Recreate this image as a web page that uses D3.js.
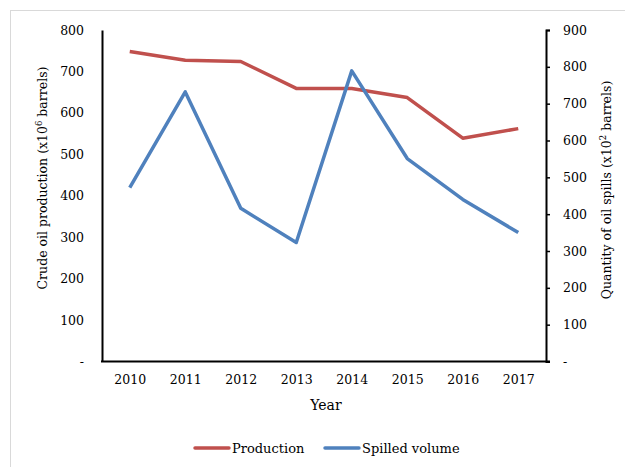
<!DOCTYPE html>
<html>
<head>
<meta charset="utf-8">
<script src="https://cdn.jsdelivr.net/npm/d3@7"></script>
<style>
  body { margin: 0; background: #fff; }
  text { font-family: "DejaVu Serif", serif; fill: #000; }
</style>
</head>
<body>
<script>
const years = ["2010", "2011", "2012", "2013", "2014", "2015", "2016", "2017"];
const production = [748, 727, 724, 659, 659, 637, 539, 562];
const spilled = [472, 732, 416, 323, 789, 551, 440, 350];
const leftTicks = [0, 100, 200, 300, 400, 500, 600, 700, 800];
const rightTicks = [0, 100, 200, 300, 400, 500, 600, 700, 800, 900];

const width = 625, height = 467;
const plot = { left: 102, right: 546, top: 30, bottom: 361.5 };
const colors = { production: "#C0504D", spilled: "#4F81BD" };
const tickFont = "12.5px";

const svg = d3.select("body")
  .append("svg")
  .attr("width", width)
  .attr("height", height);

// chart frame
svg.append("rect")
  .attr("x", 10.5).attr("y", 10.5)
  .attr("width", 630).attr("height", 470)
  .attr("fill", "none")
  .attr("stroke", "#d9d9d9");

const x = d3.scalePoint()
  .domain(years)
  .range([plot.left, plot.right])
  .padding(0.5);

const yLeft = d3.scaleLinear().domain([0, 800]).range([plot.bottom, plot.top]);
const yRight = d3.scaleLinear().domain([0, 900]).range([plot.bottom, plot.top]);

const fmt = d => d === 0 ? "-" : d;

// left axis
const gl = svg.append("g")
  .attr("transform", `translate(${plot.left},0)`)
  .call(d3.axisLeft(yLeft).tickValues(leftTicks).tickSize(0).tickPadding(18).tickFormat(fmt));
gl.select(".domain").attr("stroke", "#000").attr("stroke-width", 2);
gl.selectAll("text").style("font-size", tickFont).style("font-family", "DejaVu Serif");

// right axis
const gr = svg.append("g")
  .attr("transform", `translate(${plot.right},0)`)
  .call(d3.axisRight(yRight).tickValues(rightTicks).tickSize(4).tickSizeOuter(4).tickPadding(13).tickFormat(fmt));
gr.select(".domain").attr("stroke", "#000").attr("stroke-width", 2);
gr.selectAll(".tick line").attr("stroke", "#000").attr("stroke-width", 1.5);
gr.selectAll("text").style("font-size", tickFont).style("font-family", "DejaVu Serif");

// bottom axis
const gb = svg.append("g")
  .attr("transform", `translate(0,${plot.bottom})`)
  .call(d3.axisBottom(x).tickSize(0).tickPadding(14));
gb.select(".domain").attr("stroke", "#000").attr("stroke-width", 2)
  .attr("d", `M${plot.left - 1},0H${plot.right + 4}`);
gb.selectAll("text").style("font-size", tickFont).style("font-family", "DejaVu Serif");

// axis titles
svg.append("text")
  .attr("x", (plot.left + plot.right) / 2 + 2)
  .attr("y", 410)
  .attr("text-anchor", "middle")
  .style("font-size", "14px")
  .text("Year");

const lt = svg.append("text")
  .attr("transform", "translate(47,178) rotate(-90)")
  .attr("text-anchor", "middle")
  .style("font-size", "12.5px");
lt.append("tspan").text("Crude oil production (x10");
lt.append("tspan").attr("dy", -5).style("font-size", "8.5px").text("6");
lt.append("tspan").attr("dy", 5).text(" barrels)");

const rt = svg.append("text")
  .attr("transform", "translate(611,190) rotate(-90)")
  .attr("text-anchor", "middle")
  .style("font-size", "12.5px");
rt.append("tspan").text("Quantity of oil spills (x10");
rt.append("tspan").attr("dy", -5).style("font-size", "8.5px").text("2");
rt.append("tspan").attr("dy", 5).text(" barrels)");

// lines
const lineL = d3.line().x((d, i) => x(years[i])).y(d => yLeft(d));
const lineR = d3.line().x((d, i) => x(years[i])).y(d => yRight(d));

svg.append("path")
  .datum(production)
  .attr("d", lineL)
  .attr("fill", "none")
  .attr("stroke", colors.production)
  .attr("stroke-width", 3.5)
  .attr("stroke-linejoin", "round");

svg.append("path")
  .datum(spilled)
  .attr("d", lineR)
  .attr("fill", "none")
  .attr("stroke", colors.spilled)
  .attr("stroke-width", 3.5)
  .attr("stroke-linejoin", "round");

// legend
const legend = [
  { label: "Production", color: colors.production, x: 195 },
  { label: "Spilled volume", color: colors.spilled, x: 325 }
];
const lg = svg.append("g").selectAll("g").data(legend).enter().append("g")
  .attr("transform", d => `translate(${d.x},448)`);
lg.append("line")
  .attr("x1", 0).attr("x2", 34)
  .attr("stroke", d => d.color)
  .attr("stroke-width", 3.5)
  .attr("stroke-linecap", "round");
lg.append("text")
  .attr("x", 37).attr("dy", "0.35em")
  .style("font-size", "13px")
  .text(d => d.label);
</script>
</body>
</html>
